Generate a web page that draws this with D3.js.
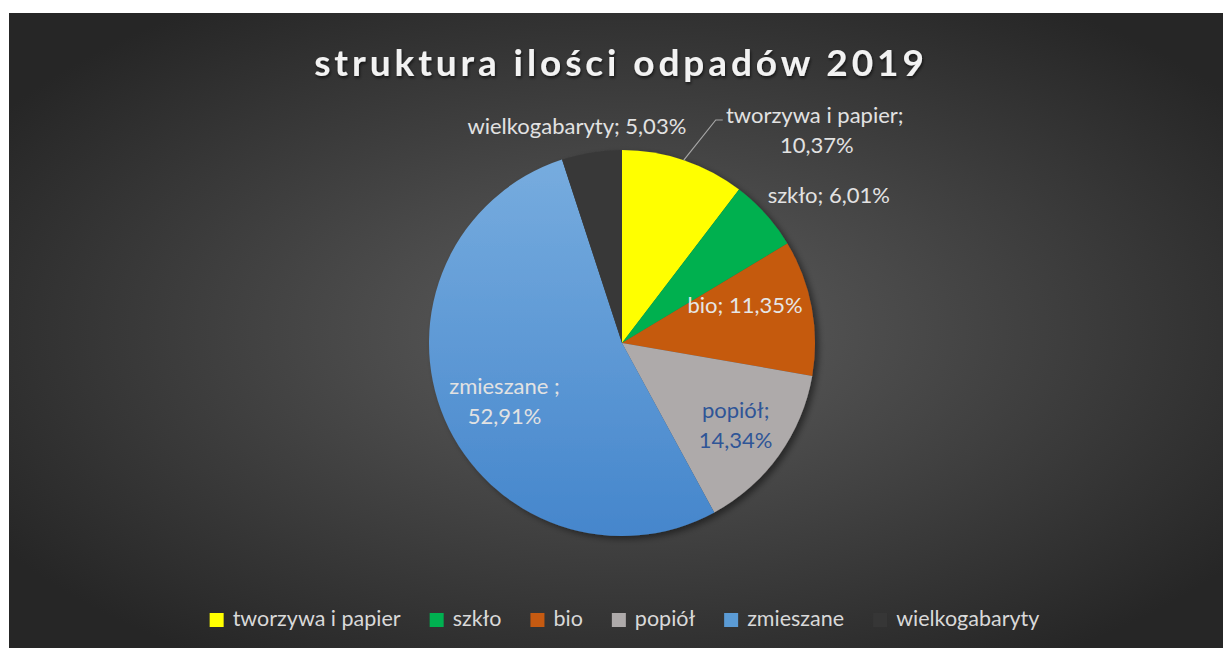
<!DOCTYPE html>
<html lang="pl">
<head>
  <meta charset="UTF-8">
  <title>struktura ilości odpadów 2019</title>
  <script src="https://d3js.org/d3.v7.min.js"></script>
  <style>
    html, body { margin: 0; padding: 0; background: #fff; }
    svg { display: block; }
    text { font-family: Lato, "Open Sans", sans-serif; }
  </style>
</head>
<body>
  <svg width="1223" height="648"></svg>

  <script>
    // data
    const categories = ["tworzywa i papier", "szkło", "bio", "popiół", "zmieszane", "wielkogabaryty"];
    const shares = [10.37, 6.01, 11.35, 14.34, 52.91, 5.03];
    const labelNames = ["tworzywa i papier", "szkło", "bio", "popiół", "zmieszane ", "wielkogabaryty"];
    const colors = ["#ffff00", "#00b050", "#c55a11", "#aeaaaa", "url(#blueGrad)", "#393939"];
    const legendColors = ["#ffff00", "#00b050", "#c55a11", "#aeaaaa", "#5b9bd5", "#363636"];
    const title = "struktura ilości odpadów 2019";

    const data = categories.map((c, i) => ({ name: c, label: labelNames[i], value: shares[i], color: colors[i] }));

    const svg = d3.select("svg");
    const W = 1223, H = 648;
    const cx = 622, cy = 343, R = 193;

    const defs = svg.append("defs");
    const bg = defs.append("radialGradient").attr("id", "bgGrad")
      .attr("cx", "51%").attr("cy", "50%").attr("r", "62%");
    bg.append("stop").attr("offset", "0%").attr("stop-color", "#5e5e5e");
    bg.append("stop").attr("offset", "100%").attr("stop-color", "#262626");

    // gradient coords are in the pie group's local space
    const bl = defs.append("linearGradient").attr("id", "blueGrad")
      .attr("gradientUnits", "userSpaceOnUse")
      .attr("x1", 0).attr("y1", -R).attr("x2", 0).attr("y2", R);
    bl.append("stop").attr("offset", "0%").attr("stop-color", "#78addf");
    bl.append("stop").attr("offset", "100%").attr("stop-color", "#4586cc");

    const sh = defs.append("filter").attr("id", "pieShadow")
      .attr("x", "-20%").attr("y", "-20%").attr("width", "140%").attr("height", "140%");
    sh.append("feDropShadow").attr("dx", 4).attr("dy", 3).attr("stdDeviation", 3)
      .attr("flood-color", "#000").attr("flood-opacity", 0.45);

    const tsh = defs.append("filter").attr("id", "titleShadow");
    tsh.append("feDropShadow").attr("dx", 1).attr("dy", 2).attr("stdDeviation", 1.5)
      .attr("flood-color", "#000").attr("flood-opacity", 0.6);

    // background panel
    svg.append("rect").attr("x", 9).attr("y", 13).attr("width", W - 9).attr("height", H - 13)
      .attr("fill", "url(#bgGrad)");

    // title
    svg.append("text")
      .attr("x", 621).attr("y", 76)
      .attr("text-anchor", "middle")
      .attr("fill", "#f2f2f2")
      .attr("font-size", 37)
      .attr("font-weight", "bold")
      .attr("letter-spacing", 3.9)
      .attr("filter", "url(#titleShadow)")
      .text(title);

    // pie
    const pie = d3.pie().sort(null).value(d => d.value);
    const arcs = pie(data);
    const arc = d3.arc().innerRadius(0).outerRadius(R);

    const g = svg.append("g").attr("transform", `translate(${cx},${cy})`);
    g.append("g").attr("filter", "url(#pieShadow)")
      .selectAll("path")
      .data(arcs)
      .join("path")
      .attr("d", arc)
      .attr("fill", d => d.data.color);

    // labels
    const fmt = v => d3.format(".2f")(v).replace(".", ",") + "%";
    const inner = d3.arc().innerRadius(R * 0.68).outerRadius(R * 0.68);
    const outer = d3.arc().innerRadius(R + 24).outerRadius(R + 24);
    const mid = d => (d.startAngle + d.endAngle) / 2;
    const pt = (r, a) => [Math.sin(a) * r, -Math.cos(a) * r];

    const lab = g.append("g").attr("font-size", 22);

    arcs.forEach(d => {
      const name = d.data.name;
      const txt = `${d.data.label}; ${fmt(d.data.value)}`;
      if (name === "bio") {
        const [x, y] = inner.centroid(d);
        lab.append("text").attr("x", x - 6).attr("y", y - 6).attr("text-anchor", "middle")
          .attr("fill", "#e6e6e6").text(txt);
      } else if (name === "popiół" || name === "zmieszane") {
        const [x, y] = inner.centroid(d);
        const fill = name === "popiół" ? "#2f5597" : "#e2e2e2";
        const dx = name === "popiół" ? 7 : 3;
        const t = lab.append("text").attr("text-anchor", "middle").attr("fill", fill);
        t.append("tspan").attr("x", x + dx).attr("y", y - 1).text(d.data.label + ";");
        t.append("tspan").attr("x", x + dx).attr("y", y + 29).text(fmt(d.data.value));
      } else if (name === "wielkogabaryty") {
        const [x, y] = outer.centroid(d);
        lab.append("text").attr("x", x - 11).attr("y", y + 5).attr("text-anchor", "middle")
          .attr("fill", "#e2e2e2").text(txt);
      } else if (name === "szkło") {
        const [x, y] = outer.centroid(d);
        lab.append("text").attr("x", x - 16).attr("y", y + 5).attr("text-anchor", "start")
          .attr("fill", "#e2e2e2").text(txt);
      } else {
        // tworzywa i papier: moved out with a leader line
        const [ex, ey] = pt(R, mid(d));
        const bx = ex + 32, by = -223;
        g.append("polyline")
          .attr("points", [[ex, ey], [bx, by], [bx + 7, by]].map(p => p.join(",")).join(" "))
          .attr("fill", "none").attr("stroke", "#a6a6a6").attr("stroke-width", 1.2);
        const t = lab.append("text").attr("text-anchor", "middle").attr("fill", "#e2e2e2");
        t.append("tspan").attr("x", bx + 99).attr("y", by + 3).text(d.data.label + ";");
        t.append("tspan").attr("x", bx + 101).attr("y", by + 33).text(fmt(d.data.value));
      }
    });

    // legend
    const legend = svg.append("g").attr("font-size", 21.5);
    const items = legend.selectAll("g").data(data).join("g");
    items.append("rect").attr("width", 14).attr("height", 14).attr("y", -13)
      .attr("fill", (d, i) => legendColors[i]);
    items.append("text").attr("x", 23).attr("y", 0).attr("fill", "#d9d9d9").text(d => d.name);
    let xPos = 0;
    items.each(function () {
      const w = d3.select(this).select("text").node().getComputedTextLength();
      d3.select(this).attr("transform", `translate(${xPos},0)`);
      xPos += 23 + w + 29;
    });
    const total = xPos - 29;
    legend.attr("transform", `translate(${624.5 - total / 2},626)`);
  </script>
</body>
</html>
